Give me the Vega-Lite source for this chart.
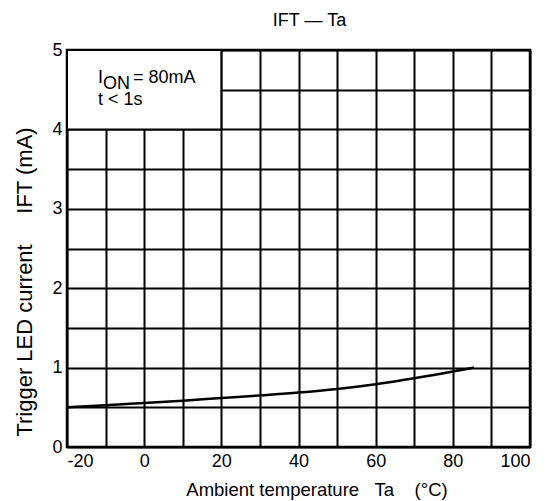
{
  "$schema": "https://vega.github.io/schema/vega-lite/v6.json",
  "width": 463,
  "height": 397,
  "autosize": {"type": "none"},
  "padding": {"left": 67, "top": 50, "right": 24, "bottom": 54},
  "background": "white",
  "title": {
    "text": "IFT — Ta",
    "frame": "group",
    "anchor": "middle",
    "fontSize": 18,
    "font": "Liberation Sans",
    "fontWeight": "normal",
    "color": "black",
    "baseline": "alphabetic",
    "offset": 22,
    "dx": 11,
    "dy": 25
  },
  "config": {
    "view": {"stroke": "black", "strokeWidth": 2.5},
    "font": "Liberation Sans"
  },
  "datasets": {
    "curve": [
      {"ta": -20, "ift": 0.5},
      {"ta": -10, "ift": 0.525},
      {"ta": 0, "ift": 0.554},
      {"ta": 10, "ift": 0.583},
      {"ta": 20, "ift": 0.617},
      {"ta": 30, "ift": 0.65},
      {"ta": 40, "ift": 0.685},
      {"ta": 50, "ift": 0.73},
      {"ta": 60, "ift": 0.79},
      {"ta": 70, "ift": 0.865},
      {"ta": 80, "ift": 0.95},
      {"ta": 85.5, "ift": 1.0}
    ],
    "box": [{"ta": -20, "ta2": 20, "ift": 4, "ift2": 5}],
    "notes": [
      {"label": "I", "ta": -11.96, "ift": 4.584},
      {"label": "ON", "ta": -10.67, "ift": 4.51},
      {"label": "= 80mA", "ta": -2.9, "ift": 4.584},
      {"label": "t < 1s", "ta": -11.96, "ift": 4.307}
    ]
  },
  "encoding": {
    "x": {
      "field": "ta",
      "type": "quantitative",
      "scale": {"domain": [-20, 100], "nice": false, "zero": false},
      "axis": {
        "values": [-20, -10, 0, 10, 20, 30, 40, 50, 60, 70, 80, 90, 100],
        "labelExpr": "datum.value % 20 === 0 ? '' + datum.value : ''",
        "grid": true,
        "gridColor": "black",
        "gridOpacity": 1,
        "gridWidth": 2,
        "domain": false,
        "ticks": false,
        "labelPadding": 5,
        "labelFontSize": 18,
        "labelColor": "black",
        "labelFont": "Liberation Sans",
        "labelOverlap": false,
        "title": "Ambient temperature\u00a0\u00a0\u00a0Ta\u00a0\u00a0\u00a0\u00a0(°C)",
        "titleFont": "Liberation Sans",
        "titleFontSize": 18.5,
        "titleFontWeight": "normal",
        "titleColor": "black",
        "titleX": 249.5,
        "titleY": 48,
        "titleAlign": "center",
        "titleBaseline": "alphabetic"
      }
    },
    "y": {
      "field": "ift",
      "type": "quantitative",
      "scale": {"domain": [0, 5], "nice": false},
      "axis": {
        "values": [0, 0.5, 1, 1.5, 2, 2.5, 3, 3.5, 4, 4.5, 5],
        "labelExpr": "datum.value % 1 === 0 ? '' + datum.value : ''",
        "grid": true,
        "gridColor": "black",
        "gridOpacity": 1,
        "gridWidth": 2,
        "domain": false,
        "ticks": false,
        "labelPadding": 5,
        "labelFontSize": 18,
        "labelColor": "black",
        "labelFont": "Liberation Sans",
        "labelOverlap": false,
        "title": "Trigger LED current\u00a0\u00a0\u00a0\u00a0\u00a0IFT (mA)",
        "titleFont": "Liberation Sans",
        "titleFontSize": 22,
        "titleFontWeight": "normal",
        "titleColor": "black",
        "titleX": -35.7,
        "titleY": 231.5,
        "titleAlign": "center",
        "titleBaseline": "alphabetic"
      }
    }
  },
  "layer": [
    {
      "data": {"name": "curve"},
      "mark": {"type": "line", "color": "black", "strokeWidth": 2.5, "interpolate": "monotone"}
    },
    {
      "data": {"name": "box"},
      "mark": {"type": "rect", "fill": "white", "stroke": "black", "strokeWidth": 2},
      "encoding": {
        "x2": {"field": "ta2"},
        "y2": {"field": "ift2"}
      }
    },
    {
      "data": {"name": "notes"},
      "mark": {"type": "text", "align": "left", "baseline": "alphabetic", "fontSize": 18, "color": "black", "font": "Liberation Sans"},
      "encoding": {
        "text": {"field": "label"}
      }
    }
  ]
}
